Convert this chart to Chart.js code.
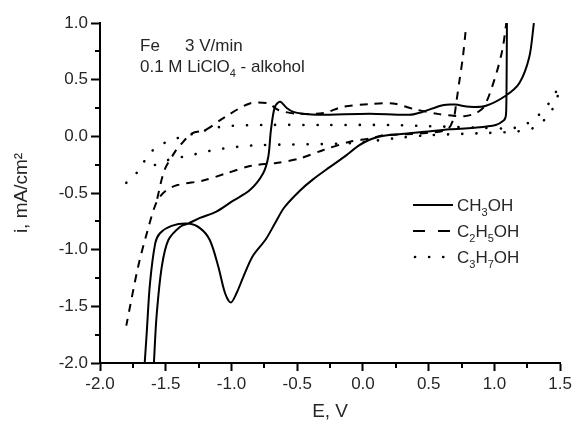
<!DOCTYPE html>
<html>
<head>
<meta charset="utf-8">
<script src="https://cdn.jsdelivr.net/npm/chart.js@4/dist/chart.umd.min.js"></script>
<style>
  html, body { margin: 0; padding: 0; background: #fff; }
  #wrap { width: 575px; height: 423px; }
</style>
</head>
<body>
<div id="wrap"><canvas id="cv" width="575" height="423"></canvas></div>
<script>
// potentials (V) and currents (mA/cm2), null = pen lifted
const ch3ohE = [1.095, 1.093, 1.09, 1.085, 1.07, 1.01, 0.84, 0.66, 0.43, 0.2, 0.12, 0.05, -0.03, -0.13, -0.25, -0.38, -0.48, -0.6, -0.67, -0.74, -0.84, -0.91, -0.96, -1.005, -1.05, -1.1, -1.165, -1.24, -1.33, -1.456, -1.544, -1.58, -1.62, -1.645, -1.66,
                -1.62,
                -1.59, -1.57, -1.53, -1.48, -1.39, -1.33, -1.24, -1.115, -0.99, -0.86, -0.76, -0.72, -0.7, -0.67, -0.63, -0.58, -0.53, -0.456, -0.33, 0.05, 0.354, 0.455, 0.606, 0.7, 0.81, 0.936, 1.088, 1.19, 1.265, 1.3];
const ch3ohI = [1.0, 0.6, 0.25, 0.17, 0.14, 0.1, 0.075, 0.062, 0.035, 0.012, -0.004, -0.03, -0.08, -0.17, -0.27, -0.38, -0.48, -0.63, -0.77, -0.91, -1.06, -1.24, -1.38, -1.467, -1.38, -1.15, -0.915, -0.81, -0.77, -0.79, -0.855, -0.944, -1.3, -1.74, -2.0,
                null,
                -2.0, -1.59, -1.15, -0.915, -0.797, -0.77, -0.72, -0.665, -0.57, -0.474, -0.327, -0.18, 0.055, 0.26, 0.305, 0.25, 0.216, 0.2, 0.19, 0.2, 0.19, 0.216, 0.275, 0.28, 0.26, 0.27, 0.36, 0.47, 0.7, 1.0];

const c2h5ohE = [0.78, 0.76, 0.735, 0.71, 0.69, 0.64, 0.44, 0.16, 0.05, -0.1, -0.3, -0.48, -0.66, -0.85, -1.04, -1.215, -1.41, -1.5, -1.57, -1.645, -1.71, -1.8,
                 -1.6,
                 -1.565, -1.51, -1.43, -1.39, -1.3, -1.2, -1.05, -0.86, -0.72, -0.64, -0.5, -0.3, -0.155, 0.05, 0.226, 0.4, 0.58, 0.7, 0.77, 0.85, 0.92, 1.0, 1.06, 1.09];
const c2h5ohI = [0.92, 0.7, 0.5, 0.3, 0.16, 0.06, 0.026, 0.01, -0.02, -0.048, -0.12, -0.195, -0.235, -0.26, -0.327, -0.39, -0.43, -0.48, -0.58, -0.86, -1.15, -1.67,
                 null,
                 -0.55, -0.3, -0.137, -0.078, 0.026, 0.055, 0.17, 0.29, 0.29, 0.23, 0.2, 0.205, 0.26, 0.284, 0.29, 0.237, 0.196, 0.18, 0.178, 0.2, 0.26, 0.5, 0.76, 1.0];

const c3h7ohE = [-1.8, -1.7, -1.63, -1.53, -1.42, -1.3, -1.08, -0.76, -0.3, 0.2, 0.5, 0.9, 1.11, 1.21, 1.32, 1.42, 1.49,
                 1.467, 1.4, 1.3, 1.19, 0.95, 0.5, 0.3, -0.1, -0.785, -0.9, -1.01, -1.13, -1.23, -1.34, -1.46, -1.56, -1.67];
const c3h7ohI = [-0.41, -0.295, -0.157, -0.07, -0.019, 0.019, 0.084, 0.1, 0.1, 0.1, 0.09, 0.075, 0.07, 0.09, 0.17, 0.3, 0.43,
                 0.3, 0.17, 0.076, 0.046, 0.03, 0.01, -0.01, -0.06, -0.077, -0.086, -0.1, -0.12, -0.145, -0.175, -0.2, -0.245, -0.28];

const xMin = -2.0, xMax = 1.5, yMin = -2.0, yMax = 1.0;
const xMinor = [-1.75, -1.25, -0.75, -0.25, 0.25, 0.75, 1.25];
const yMinor = [-1.75, -1.25, -0.75, -0.25, 0.25, 0.75];

const FONT = "'Liberation Sans', Arial, sans-serif";
const INK = '#262626';

function pts(E, I) {
    return E.map((e, k) => ({ x: e, y: I[k] }));
}

// writes a formula with sub/superscripts, parts = [[text, 0|1|2], ...]
function formula(ctx, parts, x, y, size) {
    let cx = x;
    parts.forEach(([t, mode]) => {
        const s = mode ? Math.round(size * 0.62) : size;
        ctx.font = s + 'px ' + FONT;
        const dy = mode === 1 ? size * 0.3 : (mode === 2 ? -size * 0.45 : 0);
        ctx.fillText(t, cx, y + dy);
        cx += ctx.measureText(t).width;
    });
}

const decor = {
    id: 'decor',
    afterDraw(chart) {
        const ctx = chart.ctx;
        const a = chart.chartArea;
        const xs = chart.scales.x, ys = chart.scales.y;

        // minor ticks
        ctx.save();
        ctx.strokeStyle = '#000';
        ctx.lineWidth = 2;
        ctx.beginPath();
        xMinor.forEach(v => {
            const px = Math.round(xs.getPixelForValue(v));
            ctx.moveTo(px, a.bottom);
            ctx.lineTo(px, a.bottom + 5);
        });
        yMinor.forEach(v => {
            const py = Math.round(ys.getPixelForValue(v));
            ctx.moveTo(a.left, py);
            ctx.lineTo(a.left - 5, py);
        });
        ctx.stroke();
        ctx.restore();

        // annotation
        ctx.save();
        ctx.fillStyle = INK;
        ctx.textBaseline = 'alphabetic';
        formula(ctx, [['Fe', 0]], 140, 51, 17);
        formula(ctx, [['3 V/min', 0]], 185, 51, 17);
        formula(ctx, [['0.1 M LiClO', 0], ['4', 1], [' - alkohol', 0]], 140, 72, 17);

        // legend
        const rows = [
            { y: 205, dash: [], cap: 'butt', x0: 413, x1: 453, parts: [['CH', 0], ['3', 1], ['OH', 0]] },
            { y: 231, dash: [12, 13], cap: 'butt', x0: 413, x1: 453, parts: [['C', 0], ['2', 1], ['H', 0], ['5', 1], ['OH', 0]] },
            { y: 257, dash: [0.1, 14], cap: 'round', x0: 415, x1: 446, parts: [['C', 0], ['3', 1], ['H', 0], ['7', 1], ['OH', 0]] }
        ];
        rows.forEach(r => {
            ctx.strokeStyle = '#000';
            ctx.lineWidth = r.cap === 'round' ? 2.6 : 2;
            ctx.lineCap = r.cap;
            ctx.setLineDash(r.dash);
            ctx.beginPath();
            ctx.moveTo(r.x0, r.y);
            ctx.lineTo(r.x1, r.y);
            ctx.stroke();
            ctx.setLineDash([]);
            formula(ctx, r.parts, 457, r.y + 6, 17);
        });
        ctx.restore();
    }
};

const lineStyle = {
    showLine: true,
    pointRadius: 0,
    borderColor: '#000',
    borderWidth: 2,
    tension: 0.3,
    spanGaps: false,
    fill: false
};

new Chart(document.getElementById('cv').getContext('2d'), {
    type: 'scatter',
    data: {
        datasets: [
            Object.assign({ label: 'CH3OH', data: pts(ch3ohE, ch3ohI) }, lineStyle),
            Object.assign({ label: 'C2H5OH', data: pts(c2h5ohE, c2h5ohI), borderDash: [8, 7] }, lineStyle),
            Object.assign({ label: 'C3H7OH', data: pts(c3h7ohE, c3h7ohI), borderDash: [0.1, 14], borderCapStyle: 'round' }, lineStyle, { borderWidth: 2.6 })
        ]
    },
    options: {
        responsive: false,
        animation: false,
        layout: { padding: { top: 23, right: 14, left: 0, bottom: 0 } },
        plugins: {
            legend: { display: false },
            tooltip: { enabled: false }
        },
        scales: {
            x: {
                type: 'linear',
                min: xMin,
                max: xMax,
                afterFit: s => { s.height = 60; },
                border: { display: true, color: '#000', width: 2 },
                grid: { drawOnChartArea: false, drawTicks: true, tickLength: 8, tickColor: '#000', tickWidth: 2 },
                ticks: {
                    stepSize: 0.5,
                    padding: 3,
                    color: INK,
                    font: { family: FONT, size: 17 },
                    callback: v => v.toFixed(1)
                },
                title: {
                    display: true,
                    text: 'E, V',
                    color: INK,
                    font: { family: FONT, size: 19 },
                    padding: { top: -3, bottom: 0 }
                }
            },
            y: {
                type: 'linear',
                min: yMin,
                max: yMax,
                afterFit: s => { s.width = 100; },
                border: { display: true, color: '#000', width: 2 },
                grid: { drawOnChartArea: false, drawTicks: true, tickLength: 9, tickColor: '#000', tickWidth: 2 },
                ticks: {
                    stepSize: 0.5,
                    padding: 3,
                    color: INK,
                    font: { family: FONT, size: 17 },
                    callback: v => v.toFixed(1)
                },
                title: {
                    display: true,
                    text: 'i, mA/cm²',
                    color: INK,
                    font: { family: FONT, size: 19 },
                    padding: { top: 10, bottom: 0 }
                }
            }
        }
    },
    plugins: [decor]
});
</script>
</body>
</html>
